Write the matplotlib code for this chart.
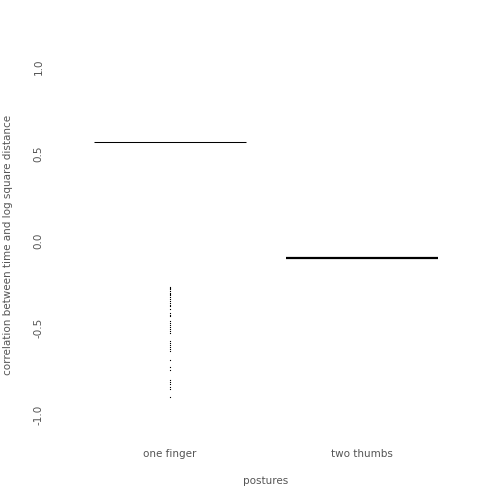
import matplotlib
matplotlib.use("Agg")
import matplotlib.pyplot as plt

# categories and summary values
postures = ["one finger", "two thumbs"]
summary_values = [0.57, -0.096]
summary_widths = [0.75, 1.6]

# individual correlations drawn as a strip for "one finger"
one_finger_points = [
    -0.263, -0.270, -0.278, -0.289, -0.297, -0.305, -0.312, -0.324,
    -0.335, -0.347, -0.355, -0.366, -0.374, -0.389, -0.416, -0.424,
    -0.431, -0.461, -0.473, -0.481, -0.496, -0.507, -0.519, -0.527,
    -0.573, -0.584, -0.596, -0.607, -0.619, -0.630, -0.684, -0.726,
    -0.741, -0.799, -0.810, -0.824, -0.837, -0.851, -0.898,
]

y_ticks = [-1.0, -0.5, 0.0, 0.5, 1.0]
y_tick_labels = ["-1.0", "-0.5", "0.0", "0.5", "1.0"]

W = H = 504
fig = plt.figure(figsize=(5.04, 5.04), dpi=100)
ax = fig.add_axes([74 / W, (W - 432.4) / H, 384 / W, 382.8 / H])

x_pos = list(range(1, len(postures) + 1))
half = 0.396
for x, v, lw in zip(x_pos, summary_values, summary_widths):
    ax.hlines(v, x - half, x + half, color="black", linewidth=lw)

ax.plot([x_pos[0]] * len(one_finger_points), one_finger_points,
        linestyle="none", marker="s", markersize=0.8,
        markeredgewidth=0, color="black")

ax.set_xlim(0.5, 2.5)
ax.set_ylim(-1.1, 1.1)

txt = dict(fontsize=7.5, color="#555555")
ax.set_xticks(x_pos)
ax.set_xticklabels(postures, **txt)
ax.set_yticks(y_ticks)
ax.set_yticklabels(y_tick_labels, rotation=90, va="center", **txt)
ax.tick_params(axis="both", length=0)
ax.tick_params(axis="y", pad=22)
ax.tick_params(axis="x", pad=12)

ax.set_xlabel("postures", **txt)
ax.set_ylabel("correlation between time and log square distance", **txt)
ax.xaxis.set_label_coords(0.5, -0.114)
ax.yaxis.set_label_coords(-0.158, 0.49)

for s in ax.spines.values():
    s.set_visible(False)

fig.savefig("out.png", dpi=100)
